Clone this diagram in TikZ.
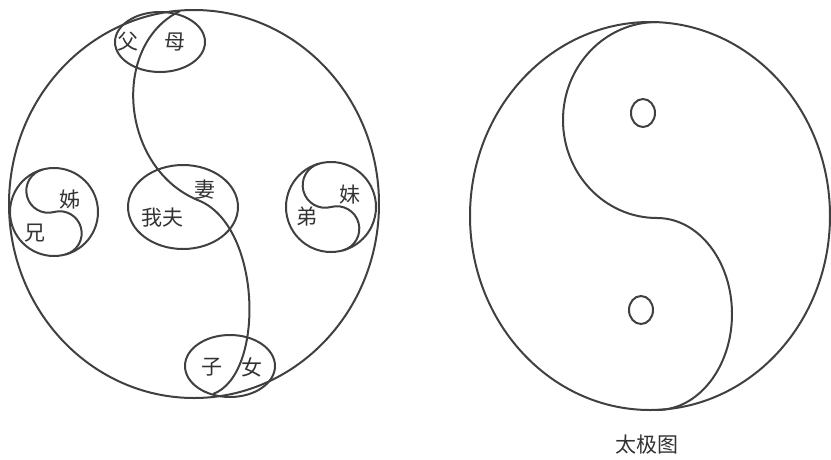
\documentclass[tikz,border=0pt]{standalone}
\usepackage{fontspec}
\newfontfamily\cjk{Noto Sans CJK SC}
\begin{document}
\begin{tikzpicture}[x=1pt,y=-1pt]
  \tikzset{ln/.style={draw=black!75,line width=2pt},
    zi/.style={font=\cjk\fontsize{21}{21}\selectfont,text=black!80,inner sep=0pt}}
  \useasboundingbox (0,0) rectangle (831,459);
  % family circle
  \draw[ln] (194,204) ellipse [x radius=185,y radius=194];
  \draw[ln] (180,11) .. controls (110,45) and (120,170) .. (200,201)
    .. controls (262,228) and (265,375) .. (213,394);
  \draw[ln] (160,42) ellipse [x radius=45,y radius=30];
  \draw[ln] (183,207) ellipse [x radius=55,y radius=42];
  \draw[ln] (230,366) ellipse [x radius=45,y radius=31];
  \draw[ln] (54,212) circle [radius=44];
  \begin{scope}[shift={(54,212)},rotate=15]
    \draw[ln] (0,-44) arc[start angle=-90,end angle=-270,radius=22]
      arc[start angle=-90,end angle=90,radius=22];
  \end{scope}
  \draw[ln] (331,207) circle [radius=45];
  \begin{scope}[shift={(331,207)},rotate=15]
    \draw[ln] (0,-45) arc[start angle=-90,end angle=-270,radius=22.5]
      arc[start angle=-90,end angle=90,radius=22.5];
  \end{scope}
  \node[zi] (fu) at (128,42) {父};
  \node[zi] (mu) at (175,42) {母};
  \node[zi] (zi2) at (70,200) {姊};
  \node[zi] (xiong) at (35,233) {兄};
  \node[zi] (wofu) at (162,218) {我夫};
  \node[zi] (qi) at (205,190) {妻};
  \node[zi] (di) at (307,217) {弟};
  \node[zi] (mei) at (350,195) {妹};
  \node[zi] (zi) at (212,367) {子};
  \node[zi] (nv) at (252,367) {女};
  % taiji
  \draw[ln] (650,216) ellipse [x radius=180,y radius=194];
  \draw[ln] (657,22) arc[start angle=-90,end angle=-270,x radius=94,y radius=98]
    arc[start angle=-90,end angle=90,x radius=75,y radius=96];
  \draw[ln] (643,113) ellipse [x radius=12,y radius=14];
  \draw[ln] (641,310) ellipse [x radius=12,y radius=14];
  \node[zi] (taiji) at (647,445) {太极图};
\end{tikzpicture}
\end{document}
